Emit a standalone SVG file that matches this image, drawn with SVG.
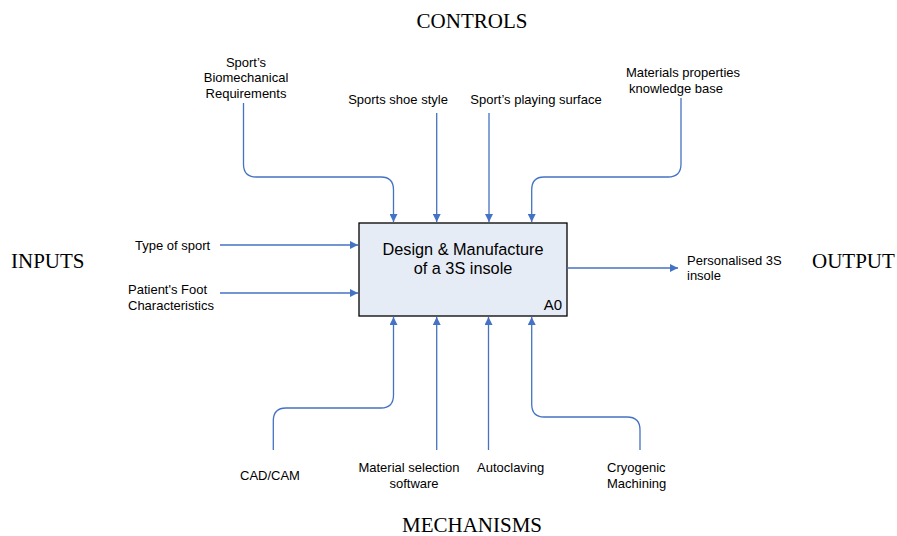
<svg xmlns="http://www.w3.org/2000/svg" width="897" height="536" viewBox="0 0 897 536">
<style>
.lbl{font-family:"Liberation Sans",Arial,sans-serif;font-size:13px;fill:#000}
.hd{font-family:"Liberation Serif","Times New Roman",serif;font-size:21px;fill:#000}
.cn{fill:none;stroke:#4472c4;stroke-width:1.3}
</style>
<defs>
<marker id="ah" viewBox="0 0 10 10" refX="10" refY="5" markerWidth="8" markerHeight="8" markerUnits="userSpaceOnUse" orient="auto">
<path d="M0,0 L10,5 L0,10 z" fill="#4472c4"/>
</marker>
</defs>
<rect width="897" height="536" fill="#fff"/>
<text class="hd" x="472" y="28" text-anchor="middle">CONTROLS</text>
<text class="hd" x="11" y="268">INPUTS</text>
<text class="hd" x="812" y="268">OUTPUT</text>
<text class="hd" x="472" y="532" text-anchor="middle">MECHANISMS</text>
<g id="A0">
<rect x="359" y="223" width="208" height="93" fill="#e6ecf6" stroke="#000" stroke-width="1.3"/>
<text class="lbl" style="font-size:16.3px" x="463" y="255" text-anchor="middle">Design &amp; Manufacture</text>
<text class="lbl" style="font-size:16.3px" x="463" y="274" text-anchor="middle">of a 3S insole</text>
<text class="lbl" style="font-size:15px" x="562" y="310" text-anchor="end">A0</text>
</g>
<g id="connectors">
<path class="cn" marker-end="url(#ah)" d="M243.5,103 V164 Q243.5,177 256,177 H381 Q393.5,177 393.5,190 V222"/>
<path class="cn" marker-end="url(#ah)" d="M436.7,113 V222"/>
<path class="cn" marker-end="url(#ah)" d="M489,113 V222"/>
<path class="cn" marker-end="url(#ah)" d="M681,98 V164 Q681,177 668,177 H544 Q531.7,177 531.7,190 V222"/>
<path class="cn" marker-end="url(#ah)" d="M220,245 H358"/>
<path class="cn" marker-end="url(#ah)" d="M220,293 H358"/>
<path class="cn" marker-end="url(#ah)" d="M567,268 H678"/>
<path class="cn" marker-end="url(#ah)" d="M273.3,450 V421 Q273.3,408 286,408 H381 Q393.5,408 393.5,395 V317"/>
<path class="cn" marker-end="url(#ah)" d="M436.7,450 V317"/>
<path class="cn" marker-end="url(#ah)" d="M488.5,450 V317"/>
<path class="cn" marker-end="url(#ah)" d="M640,450 V430 Q640,417 627,417 H544 Q531.7,417 531.7,404 V317"/>
</g>
<g id="labels">
<g id="c1"><text class="lbl" x="246" y="67" text-anchor="middle">Sport’s</text><text class="lbl" x="246" y="82" text-anchor="middle">Biomechanical</text><text class="lbl" x="246" y="98" text-anchor="middle">Requirements</text></g>
<g id="c2"><text class="lbl" x="398" y="104" text-anchor="middle">Sports shoe style</text></g>
<g id="c3"><text class="lbl" x="536" y="104" text-anchor="middle">Sport’s playing surface</text></g>
<g id="c4"><text class="lbl" x="683" y="77" text-anchor="middle">Materials properties</text><text class="lbl" x="676" y="93" text-anchor="middle">knowledge base</text></g>
<g id="i1"><text class="lbl" x="135" y="250">Type of sport</text></g>
<g id="i2"><text class="lbl" x="128" y="294">Patient's Foot</text><text class="lbl" x="128" y="310">Characteristics</text></g>
<g id="o1"><text class="lbl" x="687" y="265">Personalised 3S</text><text class="lbl" x="687" y="280">insole</text></g>
<g id="m1"><text class="lbl" x="240" y="480">CAD/CAM</text></g>
<g id="m2"><text class="lbl" x="409" y="472" text-anchor="middle">Material selection</text><text class="lbl" x="414" y="488" text-anchor="middle">software</text></g>
<g id="m3"><text class="lbl" x="477" y="472">Autoclaving</text></g>
<g id="m4"><text class="lbl" x="607" y="472">Cryogenic</text><text class="lbl" x="607" y="488">Machining</text></g>
</g>
</svg>
